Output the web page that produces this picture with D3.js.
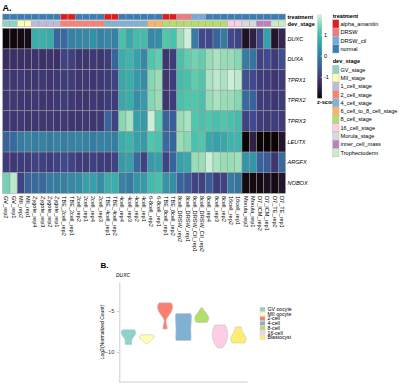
<!DOCTYPE html>
<html><head><meta charset="utf-8">
<script src="https://cdn.jsdelivr.net/npm/d3@7"></script>
<style>body{margin:0;background:#fff} svg{display:block} text{font-family:"Liberation Sans",Arial,Helvetica,sans-serif}</style>
</head><body><svg id="c" width="400" height="392"></svg>
<script>
// ---------------- DATA ----------------
const columns = ["GV_rep2","GV_rep1","MII_rep2","MII_rep1","Zygote_rep4","Zygote_rep3","Zygote_rep2","Zygote_rep1",
 "TBE_2cell_rep2","TBE_2cell_rep1","2cell_rep2","2cell_rep1","2cell_rep4","2cell_rep3","TBE_4cell_rep1","TBE_4cell_rep2",
 "4cell_rep4","4cell_rep3","4cell_rep2","4cell_rep1","6-8cell_rep2","6-8cell_rep1","TBE_8cell_rep1","TBE_8cell_rep2",
 "8cell_DRSW_rep2","8cell_DRSW_rep1","8cell_DRSW_Ctl_rep1","8cell_DRSW_Ctl_rep2","8cell_rep4","8cell_rep3","8cell_rep2",
 "16cell_rep2","16cell_rep1","Morula_rep2","Morula_rep1","D7_ICM_rep2","D7_ICM_rep1","D7_TE_rep2","D7_TE_rep1"];
const treatment = ["normal","normal","normal","normal","normal","normal","normal","normal",
 "alpha_amanitin","alpha_amanitin","normal","normal","normal","normal","alpha_amanitin","alpha_amanitin",
 "normal","normal","normal","normal","normal","normal","alpha_amanitin","alpha_amanitin",
 "DRSW","DRSW","DRSW_ctl","DRSW_ctl","normal","normal","normal",
 "normal","normal","normal","normal","normal","normal","normal","normal"];
const devStage = ["GV_stage","GV_stage","MII_stage","MII_stage","1_cell_stage","1_cell_stage","1_cell_stage","1_cell_stage",
 "2_cell_stage","2_cell_stage","2_cell_stage","2_cell_stage","2_cell_stage","2_cell_stage",
 "4_cell_stage","4_cell_stage","4_cell_stage","4_cell_stage","4_cell_stage","4_cell_stage",
 "6_cell_to_8_cell_stage","6_cell_to_8_cell_stage",
 "8_cell_stage","8_cell_stage","8_cell_stage","8_cell_stage","8_cell_stage","8_cell_stage","8_cell_stage","8_cell_stage","8_cell_stage",
 "16_cell_stage","16_cell_stage","Morula_stage","Morula_stage","inner_cell_mass","inner_cell_mass","Trophectoderm","Trophectoderm"];
const genes = ["DUXC","DUXA","TPRX1","TPRX2","TPRX3","LEUTX","ARGFX","NOBOX"];

const zDUXC = [-1.95,-1.95,-1.9,-1.85, 0.8,0.85,0.75,-0.35,-0.3,0.1,0.15,0.2,0.35,0.1,0.2,0.1,1.1,0.7,1.0,1.0,
 0.2,0.3,1.2,1.1,1.6,1.9,0.0,-0.8,-0.8,-0.4,0.0,-0.8,-0.9,-1.75,-1.5,-0.85,0.6,-1.7,-1.4];
const zDUXA = [-1.25,-1.2,-1.2,-1.2,-1.15,-1.2,-1.15,-1.2,-0.9,-0.95,-1.1,-1.1,-1.05,-1.1,-1.0,-0.4,0.8,0.9,0.6,0.2,
 1.2,1.3,-1.1,-1.0,1.1,1.3,1.4,1.3,1.6,1.7,1.6,1.6,1.5,0.0,-0.1,-0.9,-0.8,-1.0,-0.75];
const zTPRX1 = [-1.1,-1.1,-1.05,-1.1,-1.1,-1.05,-1.1,-1.05,-1.0,-1.0,-1.1,-1.05,-1.1,-1.05,-1.0,-0.9,0.7,0.8,0.5,0.3,
 1.5,1.6,-1.1,-1.0,1.0,1.1,1.3,1.2,1.7,1.8,1.7,1.9,1.8,-0.7,-0.8,-1.0,-1.0,-1.1,-1.0];
const zTPRX2 = [-1.1,-1.05,-1.1,-1.1,-1.05,-1.1,-1.1,-1.05,-1.0,-1.05,-1.1,-1.1,-1.05,-1.1,-1.0,-1.0,0.7,0.8,0.3,0.5,
 1.5,1.6,-1.1,-1.0,1.1,1.2,1.2,1.1,1.6,1.7,1.6,1.6,1.5,-0.3,-0.4,-1.0,-1.0,-1.1,-1.0];
const zTPRX3 = [-1.1,-1.1,-1.05,-1.1,-1.1,-1.1,-1.05,-1.1,-1.05,-1.1,-1.1,-1.05,-1.1,-1.05,-0.4,-0.9,1.5,1.7,0.6,0.5,
 1.9,1.3,-0.4,-0.5,1.6,1.7,1.2,1.1,1.2,1.1,1.2,1.1,1.0,-0.9,-0.8,-1.0,-1.05,-1.0,-1.0];
const zLEUTX = [-0.4,-0.3,0.0,0.1,0.05,0.1,0.0,0.1,0.05,0.1,0.15,0.1,0.0,0.1,0.1,0.05,0.8,0.9,0.6,0.5,
 1.2,1.1,-0.3,-0.4,1.6,1.5,1.1,1.2,0.7,0.6,0.7,0.9,0.9,-2.0,-1.5,-2.0,-2.0,-2.0,-1.7];
const zARGFX = [-1.0,-1.05,-1.0,-1.0,-0.9,-0.95,-1.0,-0.9,-0.8,-0.9,-1.0,-1.0,-0.95,-1.0,-1.0,-0.9,0.5,0.6,-0.3,-0.9,
 0.5,0.6,-0.9,-0.4,0.6,0.7,1.6,1.6,1.9,1.7,1.6,1.6,1.65,0.4,0.4,-0.4,-0.5,-1.1,-0.3];
const zNOBOX = [1.4,1.8,-0.9,-0.4,-0.3,-0.3,0.0,0.0,0.1,0.2,0.3,0.6,0.6,0.3,0.8,0.8,0.1,0.0,0.4,0.5,
 1.0,1.1,0.4,0.3,-0.4,-0.5,-0.9,-0.9,-0.5,-1.0,-0.9,0.0,-0.1,-1.9,-1.9,-1.9,-1.8,-1.9,-1.7];
const zRows = [zDUXC,zDUXA,zTPRX1,zTPRX2,zTPRX3,zLEUTX,zARGFX,zNOBOX];

const treatmentLevels = ["alpha_amanitin","DRSW","DRSW_ctl","normal"];
const treatmentColors = ["#E41A1C","#F07A78","#74A9E0","#377EB8"];
const stageLevels = ["GV_stage","MII_stage","1_cell_stage","2_cell_stage","4_cell_stage","6_cell_to_8_cell_stage",
 "8_cell_stage","16_cell_stage","Morula_stage","inner_cell_mass","Trophectoderm"];
const stageColors = ["#8DD3C7","#FFFFB3","#BEBADA","#FB8072","#80B1D3","#FDB462","#B3DE69","#FCCDE5","#D9D9D9","#BC80BD","#CCEBC5"];
const zTicks = [1,0,-1];
const makoStops = ["#0B0405","#2A1B39","#3C3068","#40498E","#38649E","#357BA2","#3495A9","#39AEAB","#4FC7AD","#98DDB6","#DEF5E5"];

// Panel B: violin density profiles [log2 value, relative density]
const violinStages = ["GV oocyte","MII oocyte","2-cell","4-cell","8-cell","16-cell","Blastocyst"];
const violinColors = ["#8DD3C7","#FFFFB3","#FB8072","#80B1D3","#B3DE69","#FCCDE5","#FFED6F"];
const vGV = [[-7.3,0.72],[-7.45,0.88],[-7.7,0.9],[-8.0,0.78],[-8.3,0.5],[-8.6,0.38],[-8.85,0.42],[-9.1,0.4]];
const vMII = [[-7.9,0.7],[-8.05,0.92],[-8.3,0.88],[-8.55,0.55],[-8.8,0.28],[-9.0,0.1]];
const v2cell = [[-4.0,0.7],[-4.15,0.9],[-4.6,0.95],[-5.1,0.8],[-5.6,0.42],[-6.0,0.15],[-6.3,0.1],[-6.6,0.18],[-7.0,0.28],[-7.2,0.26]];
const v4cell = [[-5.3,0.85],[-5.45,1.0],[-6.0,0.98],[-6.6,0.93],[-7.2,0.9],[-7.8,0.92],[-8.3,0.95],[-8.6,0.9]];
const v8cell = [[-4.6,0.1],[-4.8,0.2],[-5.1,0.42],[-5.5,0.75],[-5.9,0.9],[-6.2,0.8],[-6.4,0.65]];
const v16cell = [[-6.7,0.6],[-6.9,0.75],[-7.3,0.88],[-7.8,0.95],[-8.4,0.92],[-8.9,0.72],[-9.3,0.45],[-9.5,0.3]];
const vBlast = [[-6.95,0.38],[-7.3,0.42],[-7.7,0.58],[-8.1,0.9],[-8.4,0.95],[-8.7,0.88],[-8.9,0.78]];
const violins = [vGV,vMII,v2cell,v4cell,v8cell,v16cell,vBlast];
const yTicksB = [-5,-10];

// ---------------- DRAW ----------------
const svg = d3.select("#c");
const mako = d3.scaleLinear().domain(d3.range(11).map(i => -2 + i*0.4)).range(makoStops).interpolate(d3.interpolateRgb).clamp(true);

const x = d3.scaleBand().domain(columns).range([2.7, 285.5]);
const y = d3.scaleBand().domain(genes).range([28.3, 193.3]);
const tColor = d3.scaleOrdinal(treatmentLevels, treatmentColors);
const sColor = d3.scaleOrdinal(stageLevels, stageColors);

svg.append("text").attr("x",2.5).attr("y",11).attr("font-size",9).attr("font-weight","bold").text("A.");

// annotations
const annY = {treatment:[14,5.8], dev_stage:[20.8,5.8]};
svg.append("g").selectAll("rect").data(columns).join("rect")
  .attr("x", d => x(d)).attr("y", annY.treatment[0]).attr("width", x.bandwidth()).attr("height", annY.treatment[1])
  .attr("fill", (d,i) => tColor(treatment[i])).attr("stroke","#a8a8a8").attr("stroke-width",0.5);
svg.append("g").selectAll("rect").data(columns).join("rect")
  .attr("x", d => x(d)).attr("y", annY.dev_stage[0]).attr("width", x.bandwidth()).attr("height", annY.dev_stage[1])
  .attr("fill", (d,i) => sColor(devStage[i])).attr("stroke","#a8a8a8").attr("stroke-width",0.5);
svg.append("text").attr("x",287.5).attr("y",annY.treatment[0]+annY.treatment[1]/2).attr("dy","0.35em")
  .attr("font-size",5.6).attr("font-weight","bold").text("treatment");
svg.append("text").attr("x",287.5).attr("y",annY.dev_stage[0]+annY.dev_stage[1]/2).attr("dy","0.35em")
  .attr("font-size",5.6).attr("font-weight","bold").text("dev_stage");

// heatmap cells
const cells = [];
genes.forEach((g,gi) => columns.forEach((c,ci) => cells.push({g, c, v: zRows[gi][ci]})));
svg.append("g").selectAll("rect").data(cells).join("rect")
  .attr("x", d => x(d.c)).attr("y", d => y(d.g)).attr("width", x.bandwidth()).attr("height", y.bandwidth())
  .attr("fill", d => mako(d.v)).attr("stroke","#9a9a9a").attr("stroke-width",0.5);

// row labels
svg.append("g").selectAll("text").data(genes).join("text")
  .attr("x",287.5).attr("y", d => y(d) + y.bandwidth()/2).attr("dy","0.35em")
  .attr("font-size",5.6).attr("font-style","italic").text(d => d);

// column labels
svg.append("g").selectAll("text").data(columns).join("text")
  .attr("transform", d => `translate(${x(d)+x.bandwidth()/2},196) rotate(90)`)
  .attr("dy","0.35em").attr("font-size",5.6).text(d => d);

// colorbar
const cb = d3.scaleLinear().domain([-2,2]).range([98.3,14]);
const defs = svg.append("defs");
const grad = defs.append("linearGradient").attr("id","zg").attr("x1",0).attr("x2",0).attr("y1",1).attr("y2",0);
grad.selectAll("stop").data(makoStops).join("stop").attr("offset",(d,i)=>i/10).attr("stop-color",d=>d);
svg.append("rect").attr("x",317.3).attr("y",cb(2)).attr("width",4.6).attr("height",cb(-2)-cb(2)).attr("fill","url(#zg)");
svg.append("g").selectAll("line").data(zTicks).join("line")
  .attr("x1",320.6).attr("x2",321.9).attr("y1",d=>cb(d)).attr("y2",d=>cb(d)).attr("stroke","#fff").attr("stroke-width",0.5);
svg.append("g").selectAll("text").data(zTicks).join("text")
  .attr("x",324).attr("y",d=>cb(d)).attr("dy","0.35em").attr("font-size",5.6).text(d=>d);
svg.append("text").attr("x",317).attr("y",104).attr("font-size",5.6).attr("font-weight","bold").text("z-score");

// discrete legends
function legend(title, levels, colors, top) {
  const g = svg.append("g");
  g.append("text").attr("x",332.7).attr("y",top).attr("font-size",5.6).attr("font-weight","bold").text(title);
  const ly = d3.scaleBand().domain(levels).range([top+2.2, top+2.2+8.3*levels.length]);
  g.selectAll("rect").data(levels).join("rect")
    .attr("x",332.7).attr("y",d=>ly(d)).attr("width",6.3).attr("height",ly.bandwidth())
    .attr("fill",(d,i)=>colors[i]).attr("stroke","#bbbbbb").attr("stroke-width",0.5);
  g.selectAll("text.l").data(levels).join("text").attr("class","l")
    .attr("x",340.5).attr("y",d=>ly(d)+ly.bandwidth()/2).attr("dy","0.35em").attr("font-size",5.6).text(d=>d);
}
legend("treatment", treatmentLevels, treatmentColors, 17.6);
legend("dev_stage", stageLevels, stageColors, 63.3);

// ---------------- PANEL B ----------------
svg.append("text").attr("x",100.5).attr("y",268).attr("font-size",8).attr("font-weight","bold").text("B.");
svg.append("text").attr("x",116).attr("y",277).attr("font-size",5).attr("font-style","italic").text("DUXC");

const xB = d3.scaleBand().domain(violinStages).range([119.3, 247.5]);
const yB = d3.scaleLinear().domain([-13.66,-1.46]).range([382,282]);
const wB = d3.scaleLinear().domain([0,1]).range([0,8.2]);

const axL = svg.append("g").attr("transform","translate(119.3,0)")
  .call(d3.axisLeft(yB).tickValues(yTicksB).tickSize(2).tickSizeOuter(0).tickFormat(d3.format("d")));
axL.select(".domain").attr("stroke","#c8c8c8").attr("stroke-width",0.9);
axL.selectAll(".tick line").attr("stroke","#c8c8c8");
axL.selectAll(".tick text").attr("font-size",5.6).attr("fill","#333").attr("font-family","Liberation Sans, Arial, sans-serif");
svg.append("line").attr("x1",119.3).attr("x2",xB.range()[1]).attr("y1",yB.range()[0]).attr("y2",yB.range()[0])
  .attr("stroke","#c8c8c8").attr("stroke-width",0.9);

svg.append("text").attr("transform",`translate(104,${(yB.range()[0]+yB.range()[1])/2+0}) rotate(-90)`)
  .attr("text-anchor","middle").attr("font-size",5).text("Log2(Normalized Count)");

const area = d3.area().curve(d3.curveBasis)
  .y(d => yB(d[0]));
violins.forEach((vd,i) => {
  const cx = xB(violinStages[i]) + xB.bandwidth()/2;
  svg.append("path").datum(vd)
    .attr("d", area.x0(d => cx - wB(d[1])).x1(d => cx + wB(d[1])))
    .attr("fill", violinColors[i]).attr("stroke","#c4c4c4").attr("stroke-width",0.6);
});

// legend B
const lB = d3.scaleBand().domain(violinStages).range([307, 307+4.67*7]);
svg.append("g").selectAll("rect").data(violinStages).join("rect")
  .attr("x",260).attr("y",d=>lB(d)+0.3).attr("width",5).attr("height",lB.bandwidth()-0.6)
  .attr("fill",(d,i)=>violinColors[i]).attr("stroke","#cccccc").attr("stroke-width",0.4);
svg.append("g").selectAll("text").data(violinStages).join("text")
  .attr("x",267.5).attr("y",d=>lB(d)+lB.bandwidth()/2).attr("dy","0.35em").attr("font-size",5.2).text(d=>d);
</script></body></html>
